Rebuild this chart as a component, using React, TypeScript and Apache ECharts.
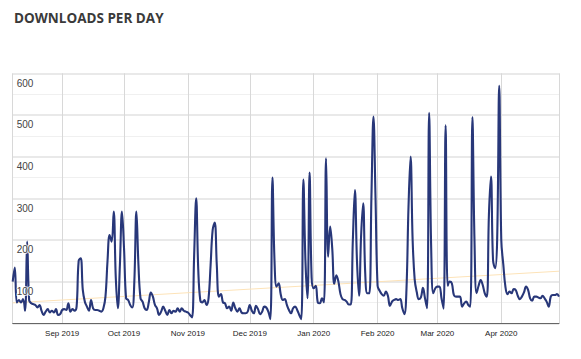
import React, { useEffect, useRef } from "react";
import * as echarts from "echarts";

const startDate = [2019, 7, 8]; // 8 Aug 2019 (month is zero-based)
const augValues = [100, 134, 50, 56, 50, 58, 30, 196, 55, 48, 46, 44, 38, 44, 30, 20, 28, 34, 26, 30, 26, 34, 20, 22];
const sepValues = [32, 34, 32, 48, 28, 34, 30, 40, 150, 156, 80, 52, 40, 30, 56, 36, 32, 32, 30, 28, 36, 64, 150, 212, 196, 268, 110, 36, 140, 268];
const octValues = [180, 60, 56, 44, 38, 100, 268, 140, 60, 52, 36, 32, 50, 74, 64, 44, 36, 20, 28, 40, 30, 20, 32, 24, 30, 28, 36, 28, 36, 30, 28];
const novValues = [26, 20, 14, 160, 300, 130, 55, 50, 56, 44, 60, 140, 224, 242, 140, 64, 70, 50, 48, 36, 40, 30, 50, 36, 28, 36, 26, 24, 24, 28];
const decValues = [44, 30, 24, 42, 34, 22, 28, 40, 38, 28, 10, 350, 150, 88, 96, 70, 56, 58, 44, 32, 24, 36, 40, 32, 20, 10, 345, 150, 60, 362, 110];
const janValues = [84, 90, 50, 48, 60, 50, 396, 160, 232, 180, 95, 115, 100, 70, 58, 56, 52, 45, 45, 200, 320, 150, 66, 210, 288, 120, 72, 72, 300, 496, 300];
const febValues = [90, 78, 70, 66, 76, 66, 42, 52, 56, 58, 56, 58, 36, 22, 80, 280, 400, 200, 105, 75, 58, 62, 85, 60, 36, 505, 180, 72, 84];
const marValues = [88, 88, 60, 35, 475, 90, 100, 96, 68, 64, 64, 64, 40, 48, 52, 44, 40, 495, 200, 72, 90, 104, 92, 72, 64, 260, 352, 152, 132, 200, 570];
const aprValues = [200, 140, 88, 70, 76, 72, 82, 80, 66, 58, 64, 74, 88, 80, 60, 54, 64, 64, 62, 60, 66, 60, 52, 40, 64, 68, 68, 70, 64];
const trendValues = [49, 125]; // trend line at first and last day
const yTicks = [0, 100, 200, 300, 400, 500, 600];
const monthNames = ["Jan", "Feb", "Mar", "Apr", "May", "Jun", "Jul", "Aug", "Sep", "Oct", "Nov", "Dec"];

const allValues = [
  ...augValues, ...sepValues, ...octValues, ...novValues, ...decValues,
  ...janValues, ...febValues, ...marValues, ...aprValues,
];
const dayTs = (i: number) => new Date(startDate[0], startDate[1], startDate[2] + i).getTime();
const seriesData = allValues.map((v, i) => [dayTs(i), v]);
const lastIdx = allValues.length - 1;
const trendData = [[dayTs(0), trendValues[0]], [dayTs(lastIdx), trendValues[1]]];

export default function App() {
  const ref = useRef<HTMLDivElement>(null);
  useEffect(() => {
    if (!ref.current) return;
    const chart = echarts.init(ref.current, null, { renderer: "svg" });
    const yMin = yTicks[0];
    const yMax = yTicks[yTicks.length - 1];
    chart.setOption({
      animation: false,
      backgroundColor: "#ffffff",
      title: {
        text: "DOWNLOADS PER DAY",
        left: 9,
        top: 6,
        textStyle: {
          fontFamily: "Open Sans",
          fontWeight: "bold",
          fontSize: 13.5,
          color: "#3a3a3a",
        },
      },
      grid: { left: 12.7, right: 22, top: 73.3, bottom: 35.7, containLabel: false },
      xAxis: {
        type: "time",
        min: dayTs(0),
        max: dayTs(lastIdx),
        minInterval: 28 * 86400000,
        splitNumber: 9,
        axisLine: { lineStyle: { color: "#666666", width: 1 } },
        axisTick: { show: false },
        splitLine: { show: true, lineStyle: { color: "#d8d8d8", width: 1 } },
        axisLabel: {
          color: "#222222",
          fontSize: 8,
          fontFamily: "Arial",
          margin: 6,
          hideOverlap: false,
          formatter: (v: number) => {
            const d = new Date(v);
            return monthNames[d.getMonth()] + " " + d.getFullYear();
          },
        },
      },
      yAxis: [
        {
          type: "value",
          min: yMin,
          max: yMax,
          interval: 100,
          axisLine: { show: false },
          axisTick: { show: false },
          axisLabel: { show: false },
          splitLine: { lineStyle: { color: "#e2e2e2", width: 1.5 } },
          minorTick: { show: false, splitNumber: 2 },
          minorSplitLine: { show: true, lineStyle: { color: "#f0f0f0", width: 1 } },
        },
        {
          type: "value",
          position: "left",
          min: yMin,
          max: yMax,
          interval: 100,
          z: 10,
          axisLine: { show: false },
          axisTick: { show: false },
          splitLine: { show: false },
          axisLabel: {
            inside: true,
            margin: 4,
            color: "#444444",
            fontSize: 10,
            fontFamily: "Arial",
            verticalAlign: "top",
            padding: [5, 0, 0, 0],
            textBorderColor: "rgba(255,255,255,0.75)",
            textBorderWidth: 2,
            formatter: (v: number) => (v === 0 ? "" : String(v)),
          },
        },
      ],
      series: [
        {
          type: "line",
          data: trendData,
          symbol: "none",
          lineStyle: { color: "#fde3b8", width: 1 },
          silent: true,
          z: 1,
        },
        {
          type: "line",
          data: seriesData,
          symbol: "none",
          smooth: 0.4,
          lineStyle: { color: "#283779", width: 2.1 },
          z: 2,
        },
      ],
    });
    return () => chart.dispose();
  }, []);
  return <div ref={ref} style={{ width: 581, height: 359, position: "absolute", left: 0, top: 0 }} />;
}
